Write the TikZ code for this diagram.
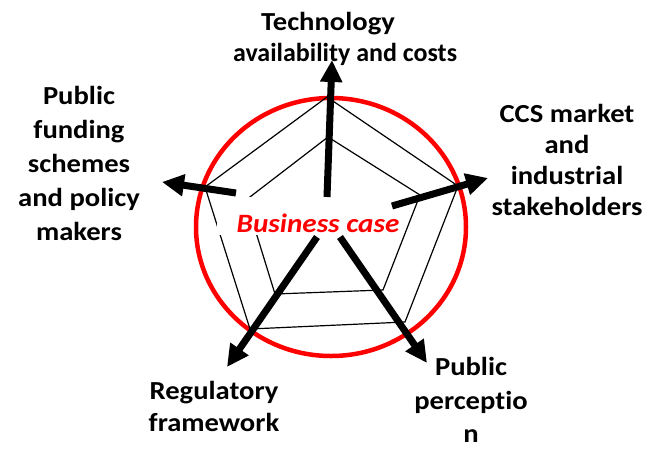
\documentclass[tikz,border=0pt]{standalone}
\usepackage{fontspec}
\setmainfont{Carlito}[FakeStretch=1.1, Ligatures={NoCommon,NoContextual}]
\newfontfamily\plainfont{Carlito}[Ligatures={NoCommon,NoContextual}]
\usetikzlibrary{arrows.meta}
\begin{document}
\begin{tikzpicture}[x=1pt,y=-1pt,
  lab/.style={align=center, inner sep=0pt},
  spoke/.style={line width=7pt, -{Triangle[width=21pt,length=22pt]}},
  web/.style={line width=1.2pt},
  ring/.style={draw=red, line width=4.5pt}]
\useasboundingbox[fill=white] (0,0) rectangle (651,451);
% red ring
\draw[ring] (331,227) ellipse [x radius=135pt, y radius=129pt];
% pentagon web
\coordinate (oT) at (327,97);
\coordinate (oR) at (458,186);
\coordinate (oBR) at (405,322);
\coordinate (oBL) at (250,329);
\coordinate (oL) at (205,187);
\coordinate (iT) at (328,137);
\coordinate (iR) at (420,195);
\coordinate (iBR) at (383,290);
\coordinate (iBL) at (275,294);
\coordinate (iL) at (246,200);
\draw[web] (oT)--(oR)--(oBR)--(oBL)--(oL)--cycle;
\draw[web] (iT)--(iR)--(iBR)--(iBL)--(iL)--cycle;
% label box
\node[fill=white, minimum width=186pt, minimum height=38pt, inner sep=0pt] (bcbox) at (310,216) {};
\node[text=red, inner sep=0pt, font=\fontsize{26.5}{30}\selectfont\bfseries\itshape] (bc) at (318,223.5) {Business case};
% spokes
\coordinate (sU) at (327,197);  \coordinate (tU) at (332,60);
\coordinate (sL) at (236,193);  \coordinate (tL) at (162,182);
\coordinate (sR) at (392,206);  \coordinate (tR) at (488,178);
\coordinate (sBL) at (317,237); \coordinate (tBL) at (227,367);
\coordinate (sBR) at (340,237); \coordinate (tBR) at (427,363);
\draw[spoke] (sU) -- (tU);
\draw[spoke] (sL) -- (tL);
\draw[spoke] (sR) -- (tR);
\draw[spoke] (sBL) -- (tBL);
\draw[spoke] (sBR) -- (tBR);
% labels
\node[lab, font=\fontsize{26}{31}\selectfont\bfseries] (tech) at (345,39) {Technology\hspace*{34pt}\\{\plainfont\bfseries availability and costs}};
\node[lab, font=\fontsize{26}{34}\selectfont\bfseries] (pub) at (79,163.5) {Public\\funding\\schemes\\and policy\\makers};
\node[lab, font=\fontsize{26}{31}\selectfont\bfseries] (ccs) at (567,160) {CCS market\\and\\industrial\\stakeholders};
\node[lab, font=\fontsize{26}{32}\selectfont\bfseries] (reg) at (214,406) {Regulatory\\framework};
\node[lab, font=\fontsize{26}{33.5}\selectfont\bfseries] (perc) at (471,400) {Public\\percept\kern0pt io\\n};
\end{tikzpicture}
\end{document}
